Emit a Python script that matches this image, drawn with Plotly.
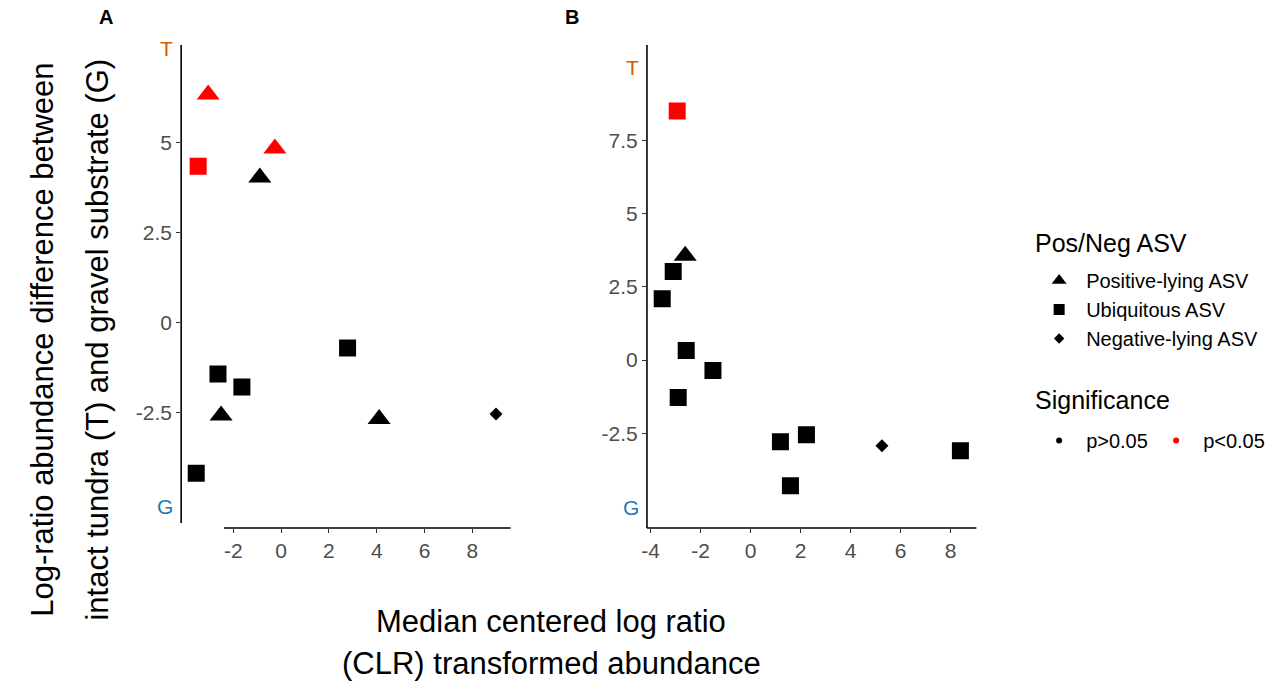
import plotly.graph_objects as go

# ---------------- Data ----------------
# Panel A
a_x = [-3.05, -0.26, -3.47, -0.89, 2.78, -2.64, -1.64, -2.51, 4.10, 8.99, -3.55]
a_y = [6.33, 4.83, 4.34, 4.03, -0.70, -1.42, -1.78, -2.57, -2.67, -2.53, -4.17]
a_type = ["Positive-lying ASV", "Positive-lying ASV", "Ubiquitous ASV", "Positive-lying ASV",
          "Ubiquitous ASV", "Ubiquitous ASV", "Ubiquitous ASV", "Positive-lying ASV",
          "Positive-lying ASV", "Negative-lying ASV", "Ubiquitous ASV"]
a_sig = ["p<0.05", "p<0.05", "p<0.05", "p>0.05", "p>0.05", "p>0.05", "p>0.05",
         "p>0.05", "p>0.05", "p>0.05", "p>0.05"]

# Panel B
b_x = [-2.94, -2.62, -3.10, -3.54, -2.58, -1.51, -2.90, 1.19, 2.23, 1.59, 5.25, 8.39]
b_y = [8.51, 3.57, 3.03, 2.10, 0.33, -0.36, -1.28, -2.79, -2.55, -4.30, -2.93, -3.10]
b_type = ["Ubiquitous ASV", "Positive-lying ASV", "Ubiquitous ASV", "Ubiquitous ASV",
          "Ubiquitous ASV", "Ubiquitous ASV", "Ubiquitous ASV", "Ubiquitous ASV",
          "Ubiquitous ASV", "Ubiquitous ASV", "Negative-lying ASV", "Ubiquitous ASV"]
b_sig = ["p<0.05"] + ["p>0.05"] * 11

type_levels = ["Positive-lying ASV", "Ubiquitous ASV", "Negative-lying ASV"]
sig_levels = ["p>0.05", "p<0.05"]

a_yticks = [-2.5, 0, 2.5, 5]
b_yticks = [-2.5, 0, 2.5, 5, 7.5]
a_xticks = [-2, 0, 2, 4, 6, 8]
b_xticks = [-4, -2, 0, 2, 4, 6, 8]

# ---------------- Styles ----------------
FONT = "Liberation Sans, Arial, sans-serif"
symbols = {"Positive-lying ASV": "triangle-up", "Ubiquitous ASV": "square", "Negative-lying ASV": "diamond"}
sizes = {"Positive-lying ASV": 20, "Ubiquitous ASV": 17, "Negative-lying ASV": 10}
leg_sizes = {"Positive-lying ASV": 13, "Ubiquitous ASV": 11, "Negative-lying ASV": 8}
colors = {"p>0.05": "black", "p<0.05": "#FF0000"}
W, H = 1271, 682

fig = go.Figure()


def add_panel(xs, ys, types, sigs, xa, ya):
    for t in type_levels:
        for s in sig_levels:
            px = [x for x, tt, ss in zip(xs, types, sigs) if tt == t and ss == s]
            py = [y for y, tt, ss in zip(ys, types, sigs) if tt == t and ss == s]
            if not px:
                continue
            fig.add_trace(go.Scatter(
                x=px, y=py, mode="markers", xaxis=xa, yaxis=ya, showlegend=False,
                marker=dict(symbol=symbols[t], size=sizes[t], color=colors[s], line=dict(width=0)),
                hoverinfo="x+y"))


add_panel(a_x, a_y, a_type, a_sig, "x", "y")
add_panel(b_x, b_y, b_type, b_sig, "x2", "y2")

# legend entries
for t in type_levels:
    fig.add_trace(go.Scatter(x=[None], y=[None], mode="markers", name=t, legend="legend",
                             marker=dict(symbol=symbols[t], size=leg_sizes[t], color="black")))
for s in sig_levels:
    fig.add_trace(go.Scatter(x=[None], y=[None], mode="markers", name=s, legend="legend2",
                             marker=dict(symbol="circle", size=6, color=colors[s])))


def lbl(v):
    return f"{v:g}"


XS = -1  # small horizontal correction in px
yd = [1 - 528 / H, 1 - 45 / H]
axis_common = dict(showgrid=False, zeroline=False, showline=False, ticks="outside", ticklen=4,
                   tickwidth=1, tickcolor="#333333",
                   tickfont=dict(family=FONT, size=21, color="#4D4D4D"))

fig.update_layout(
    width=W, height=H,
    margin=dict(l=0, r=0, t=0, b=0),
    paper_bgcolor="white", plot_bgcolor="white",
    font=dict(family=FONT, color="black"),
    xaxis=dict(domain=[(177 + XS) / W, (508 + XS) / W], range=[-4.18, 9.6], tickvals=a_xticks,
               ticktext=[lbl(v) for v in a_xticks], anchor="y", **axis_common),
    yaxis=dict(domain=yd, range=[-5.69, 7.7], tickvals=a_yticks,
               ticktext=[lbl(v) for v in a_yticks], anchor="x", **axis_common),
    xaxis2=dict(domain=[(645 + XS) / W, (976 + XS) / W], range=[-4.15, 9.03], tickvals=b_xticks,
                ticktext=[lbl(v) for v in b_xticks], anchor="y2", **axis_common),
    yaxis2=dict(domain=yd, range=[-5.74, 10.77], tickvals=b_yticks,
                ticktext=[lbl(v) for v in b_yticks], anchor="x2", **axis_common),
    legend=dict(x=1031 / W, y=1 - 261 / H, xanchor="left", yanchor="top",
                font=dict(size=20, family=FONT), itemsizing="trace", itemwidth=44,
                bgcolor="rgba(0,0,0,0)", tracegroupgap=0),
    legend2=dict(x=1031 / W, y=1 - 421 / H, xanchor="left", yanchor="top", orientation="h",
                 font=dict(size=20, family=FONT), itemsizing="trace", itemwidth=44,
                 entrywidth=58, bgcolor="rgba(0,0,0,0)"),
)

# axis lines (drawn as shapes to mimic the capped look of the original)
line = dict(color="black", width=1.6)
fig.add_shape(type="line", xref="x domain", yref="y domain", x0=0, x1=0, y0=5 / 483, y1=1, line=line)
fig.add_shape(type="line", xref="x domain", yref="y domain", x0=43 / 331, x1=1, y0=0, y1=0, line=line)
fig.add_shape(type="line", xref="x2 domain", yref="y2 domain", x0=0, x1=0, y0=0, y1=1, line=line)
fig.add_shape(type="line", xref="x2 domain", yref="y2 domain", x0=0, x1=1, y0=0, y1=0, line=line)

ann = []


def paper_text(text, x, y, size, **kw):
    d = dict(text=text, x=x / W, y=1 - y / H, xref="paper", yref="paper", showarrow=False,
             xanchor=kw.pop("xanchor", "center"), yanchor="middle",
             font=dict(size=size, family=FONT, color="black"))
    d.update(kw)
    ann.append(d)


# panel tags
paper_text("<b>A</b>", 100, 17, 20)
paper_text("<b>B</b>", 569, 17, 20)
# legend titles
paper_text("Pos/Neg ASV", 1032, 243, 25, xanchor="left")
paper_text("Significance", 1032, 400, 25, xanchor="left")
# T / G labels
for xr, yr, ty, gy in [("x domain", "y", 7.6, -5.1), ("x2 domain", "y2", 10.0, -5.05)]:
    ann.append(dict(text="T", x=0, y=ty, xref=xr, yref=yr, xanchor="right", yanchor="middle",
                    xshift=-6, showarrow=False, font=dict(size=21, family=FONT, color="#D55E00")))
    ann.append(dict(text="G", x=0, y=gy, xref=xr, yref=yr, xanchor="right", yanchor="middle",
                    xshift=-6, showarrow=False, font=dict(size=21, family=FONT, color="#1F78B4")))
# axis titles
paper_text("Log-ratio abundance difference between", 36, 340, 31, textangle=-90)
paper_text("intact tundra (T) and gravel substrate (G)", 91, 340, 31, textangle=-90)
paper_text("Median centered log ratio", 548, 621, 31)
paper_text("(CLR) transformed abundance", 548, 663, 31)
fig.update_layout(annotations=ann)

fig.write_html("out.html", config={"displayModeBar": False},
               post_script="document.body.style.margin='0';")
